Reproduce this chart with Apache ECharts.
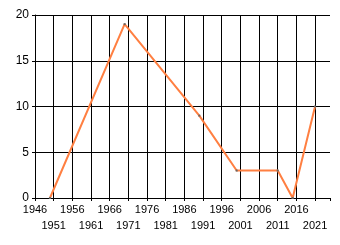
<!DOCTYPE html>
<html><head><meta charset="utf-8">
<script src="https://cdn.jsdelivr.net/npm/echarts@6/dist/echarts.min.js"></script>
<style>html,body{margin:0;padding:0;background:#fff}#c{width:340px;height:245px}</style>
</head><body><div id="c"></div>
<script>
var years = [1950, 1970, 1990, 2000, 2011, 2015, 2021];
var values = [0, 19, 9, 3, 3, 0, 10];
var xStart = 1946, xEnd = 2025, xStep = 5;
var yTicks = [0, 5, 10, 15, 20];

var span = xEnd - xStart;
var data = years.map(function (y, i) { return [y - xStart, values[i]]; });
var nLines = Math.floor(span / xStep) + 2;
var splitColors = [];
for (var i = 0; i < nLines; i++) splitColors.push(i === nLines - 1 ? 'rgba(0,0,0,0)' : '#000');
var font = 'Liberation Sans, Arial, sans-serif';
function labelAxis(odd, margin) {
  return {
    type: 'value', position: 'bottom', min: 0, max: span, interval: odd ? xStep : xStep * 2,
    axisLine: { show: false }, axisTick: { show: false }, splitLine: { show: false },
    axisLabel: {
      showMinLabel: !odd, showMaxLabel: false, margin: margin,
      color: '#000', fontSize: 11, fontFamily: font,
      formatter: function (v) {
        var k = Math.round(v / xStep);
        if (odd && k % 2 === 0) return '';
        return String(v + xStart);
      }
    }
  };
}

var chart = echarts.init(document.getElementById('c'));
chart.setOption({
  animation: false,
  grid: { left: 35, top: 15, right: 10, bottom: 47, containLabel: false },
  xAxis: [{
    type: 'value', position: 'bottom', min: 0, max: span, interval: xStep,
    axisLine: { show: true, onZero: false, lineStyle: { color: '#000', width: 1 } },
    axisTick: { show: true, length: 3, lineStyle: { color: '#000' } },
    splitLine: { show: true, lineStyle: { color: splitColors, width: 1 } },
    axisLabel: { show: false }
  }, labelAxis(false, 6), labelAxis(true, 22)],
  yAxis: {
    type: 'value', min: yTicks[0], max: yTicks[yTicks.length - 1], interval: 5,
    axisLine: { show: true, lineStyle: { color: '#000', width: 1 } },
    axisTick: { show: true, length: 3, lineStyle: { color: '#000' } },
    splitLine: { show: true, lineStyle: { color: '#000', width: 1 } },
    axisLabel: { margin: 6, color: '#000', fontSize: 12, fontFamily: font }
  },
  series: [{
    type: 'line', data: data, xAxisIndex: 0,
    lineStyle: { color: '#ff7f41', width: 2 },
    symbol: 'rect', symbolSize: 2, showSymbol: true,
    itemStyle: { color: '#666', borderWidth: 0 }
  }]
});
</script></body></html>
